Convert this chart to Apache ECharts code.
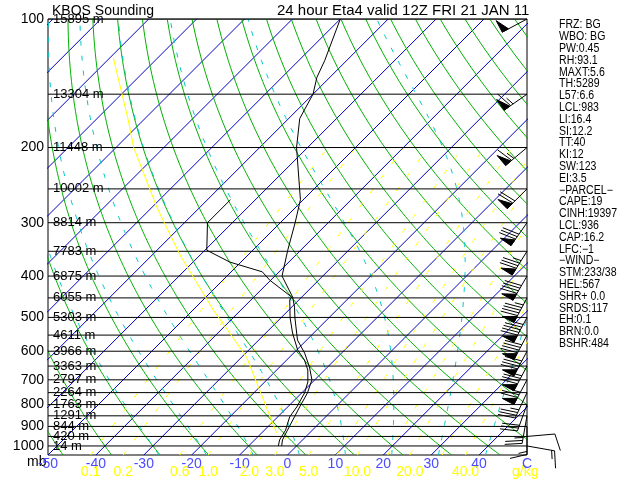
<!DOCTYPE html>
<html><head><meta charset="utf-8">
<script src="https://cdn.jsdelivr.net/npm/echarts@6/dist/echarts.min.js"></script>
<style>html,body{margin:0;padding:0;background:#fff}#c{width:640px;height:480px}</style>
</head><body><div id="c"></div>
<script>
// ---------------- data ----------------
const pressureLabels = [100,200,300,400,500,600,700,800,900,1000];
const isobarLevels = [100,150,200,250,300,350,400,450,500,550,600,650,700,750,800,850,900,950,1000];
const heightLabels = ['15895 m','13304 m','11448 m','10002 m','8814 m','7783 m','6875 m','6055 m','5303 m','4611 m','3966 m','3363 m','2797 m','2264 m','1763 m','1291 m','844 m','420 m','14 m'];
const tempP = [100,125,137,150,171,200,265,300,348,400,448,473,501,565,606,653,700,751,810,855,918,968,1000];
const tempT = [-80.0,-74.6,-72.7,-70.0,-67.7,-62.3,-50.6,-46.9,-42.7,-38.5,-31.9,-29.4,-27.1,-21.9,-17.7,-13.8,-10.6,-8.8,-7.5,-6.5,-5.2,-4.2,-3.1];
const dewP = [265,300,348,371,391,409,448,455,501,544,596,629,664,708,751,810,855,918,968,1000];
const dewT = [-65.2,-65.2,-59.6,-52.3,-43.5,-40.2,-32.1,-31.9,-28.1,-24.4,-19.8,-16.3,-13.5,-11.0,-9.4,-8.1,-7.5,-5.6,-4.8,-3.8];
const parcelP = [123,172,200,276,357,480,619,932];
const parcelT = [-119.4,-103.3,-96.3,-79.0,-64.2,-45.8,-29.0,-6.9];
const windP = [100,150,200,250,300,350,400,450,500,550,600,650,700,750,800,850,900,950,1000];
const windDir = [242,235,230,225,215,212,210,208,208,208,208,208,208,205,200,190,180,85,100];
const windSpd = [50,65,65,70,80,85,90,95,95,90,90,85,75,35,30,25,15,10,15];
const isothermT = [-140,-130,-120,-110,-100,-90,-80,-70,-60,-50,-40,-30,-20,-10,0,10,20,30,40];
const dryThetaC = [-60,-50,-40,-30,-20,-10,0,10,20,30,40,50,60,70,80,90,100,110,120,130,140,150,160,170,180,190,200];
const moistThetaW = [-30,-20,-10,0,10,20,30,40];
const mixRatio = [0.1,0.2,0.6,1,2,3,5,7.5,10,15,20,30,40];
const mixLabelVal = [0.1,0.2,0.6,1,2,3,5,10,20,40];
const mixLabel = ['0.1','0.2','0.6','1.0','2.0','3.0','5.0','10.0','20.0','40.0'];
const statLines = ['FRZ: BG','WBO: BG','PW:0.45','RH:93.1','MAXT:5.6','TH:5289','L57:6.6','LCL:983','LI:16.4','SI:12.2','TT:40','KI:12','SW:123','EI:3.5','\u2212PARCEL\u2212','CAPE:19','CINH:19397','LCL:936','CAP:16.2','LFC:\u22121','\u2212WIND\u2212','STM:233/38','HEL:567','SHR+ 0.0','SRDS:117','EH:0.1','BRN:0.0','BSHR:484'];
const titleLeft = 'KBOS Sounding';
const titleRight = '24 hour Eta4 valid 12Z FRI 21 JAN 11';

// ---------------- geometry ----------------
const GL=48, GT=19, GW=479, GH=436;
const PTOP=100, PBOT=1050;
const LY0=Math.log10(PTOP), LY1=Math.log10(PBOT);
const K=(GH/(LY1-LY0))/(GW/100);
function X(T,p){return T + K*(LY1-Math.log10(p));}
function Y(p){return Math.log10(p);}
const fineP=[]; for(let p=1050;p>=100;p-=5) fineP.push(p);

const series=[];
function addLine(pts,color,width,type,z){
  series.push({type:'line',data:pts,showSymbol:false,symbol:'none',silent:true,animation:false,clip:true,z:z||1,
    lineStyle:{color:color,width:width||1,type:type||'solid'}});
}
// isotherms
isothermT.forEach(t=>addLine([[X(t,1050),Y(1050)],[X(t,100),Y(100)]],'#0000c0',1,'solid',1));
// dry adiabats
dryThetaC.forEach(th=>{
  const pts=fineP.map(p=>{const T=(th+273.15)*Math.pow(p/1000,0.2857)-273.15;return [X(T,p),Y(p)];});
  addLine(pts,'#00b000',1,'solid',2);
});
// moist adiabats
function es(Tc){return 6.112*Math.exp(17.67*Tc/(Tc+243.5));}
function dTdp(Tk,p){
  const Tc=Tk-273.15, e=es(Tc), rs=0.622*e/(p-e);
  const Rd=287.04,Cp=1005.7,Lv=2.501e6;
  return (1/p)*(Rd*Tk+Lv*rs)/(Cp+Lv*Lv*rs*0.622/(Rd*Tk*Tk));
}
moistThetaW.forEach(tw=>{
  let Tk=tw+273.15, p=1000; const up=[];
  while(p>100){ const h=-1; const k1=dTdp(Tk,p); const k2=dTdp(Tk+0.5*h*k1,p+0.5*h); Tk+=h*k2; p+=h; if(Math.round(p)%5===0) up.push([X(Tk-273.15,p),Y(p)]); }
  Tk=tw+273.15; p=1000; const dn=[];
  while(p<1050){ const h=1; const k1=dTdp(Tk,p); const k2=dTdp(Tk+0.5*h*k1,p+0.5*h); Tk+=h*k2; p+=h; if(Math.round(p)%5===0) dn.push([X(Tk-273.15,p),Y(p)]); }
  const pts=dn.reverse().concat([[X(tw,1000),Y(1000)]]).concat(up);
  addLine(pts,'#00c8c8',1,[5,10],3);
});
// mixing ratio lines
function tdFromW(w,p){const e=w*p/(622+w);const l=Math.log(e/6.112);return 243.5*l/(17.67-l);}
mixRatio.forEach(w=>{
  const pts=[]; for(let p=1050;p>=200;p-=10) pts.push([X(tdFromW(w,p),p),Y(p)]);
  addLine(pts,'#ffff00',1,[5,13],3);
});
// isobars
isobarLevels.forEach(p=>addLine([[-50,Y(p)],[50,Y(p)]],'#000',1,'solid',5));
// parcel path
addLine(parcelP.map((p,i)=>[X(parcelT[i],p),Y(p)]),'#ffff00',1,'solid',6);
// sounding
addLine(tempP.map((p,i)=>[X(tempT[i],p),Y(p)]),'#000',1,'solid',8);
addLine(dewP.map((p,i)=>[X(dewT[i],p),Y(p)]),'#000',1,'solid',8);

const FONT='Liberation Sans, Arial, sans-serif';
// pressure labels
series.push({type:'custom',silent:true,animation:false,z:10,
  data:pressureLabels.map(p=>[-50,Y(p)]),
  renderItem:(params,api)=>{const c=api.coord([api.value(0),api.value(1)]);
    return {type:'text',style:{text:String(pressureLabels[params.dataIndex]),x:c[0]-4,y:c[1],fill:'#000',font:'14px '+FONT,align:'right',verticalAlign:'middle'}};}
});
// height labels
series.push({type:'custom',silent:true,animation:false,z:10,
  data:isobarLevels.map(p=>[-50,Y(p)]),
  renderItem:(params,api)=>{const c=api.coord([api.value(0),api.value(1)]);
    return {type:'text',style:{text:heightLabels[params.dataIndex],x:c[0]+5,y:c[1],fill:'#000',font:'13px '+FONT,align:'left',verticalAlign:'middle'}};}
});
// mixing ratio labels
series.push({type:'custom',silent:true,animation:false,z:10,
  data:mixLabelVal.map(w=>[X(tdFromW(w,1050),1050),Y(1050)]),
  renderItem:(params,api)=>{const c=api.coord([api.value(0),api.value(1)]);
    return {type:'text',style:{text:mixLabel[params.dataIndex],x:c[0],y:c[1]+17,fill:'#ffff00',font:'14px '+FONT,align:'center',verticalAlign:'middle'}};}
});
// wind barbs
series.push({type:'custom',silent:true,animation:false,z:12,
  data:windP.map((p,i)=>[50,Y(p),windDir[i],windSpd[i]]),
  renderItem:(params,api)=>{
    const b=api.coord([api.value(0),api.value(1)]);
    const d=api.value(2)*Math.PI/180, spd=api.value(3);
    const sx=Math.sin(d), sy=-Math.cos(d), px=-sy, py=sx;
    const L=28, fl=17;
    const tip=[b[0]+sx*L,b[1]+sy*L];
    const ch=[{type:'line',shape:{x1:b[0],y1:b[1],x2:tip[0],y2:tip[1]},style:{stroke:'#000',lineWidth:1}}];
    let s=Math.round(spd/5)*5, pos=0;
    while(s>=50){const a=[tip[0]-sx*pos,tip[1]-sy*pos], c2=[tip[0]-sx*(pos+7),tip[1]-sy*(pos+7)], ap=[a[0]+px*13,a[1]+py*13];
      ch.push({type:'polygon',shape:{points:[a,ap,c2]},style:{fill:'#000',stroke:'#000',lineWidth:1}}); pos+=8; s-=50;}
    while(s>=10){const a=[tip[0]-sx*pos,tip[1]-sy*pos];
      ch.push({type:'line',shape:{x1:a[0],y1:a[1],x2:a[0]+px*fl+sx*4,y2:a[1]+py*fl+sy*4},style:{stroke:'#000',lineWidth:1}}); pos+=3; s-=10;}
    if(s>=5){ if(pos===0) pos=3; const a=[tip[0]-sx*pos,tip[1]-sy*pos];
      ch.push({type:'line',shape:{x1:a[0],y1:a[1],x2:a[0]+px*fl/2+sx*2,y2:a[1]+py*fl/2+sy*2},style:{stroke:'#000',lineWidth:1}});}
    return {type:'group',children:ch};
  }
});

const chart=echarts.init(document.getElementById('c'),null,{renderer:'canvas'});
const statGraphics=statLines.map((t,i)=>({type:'text',x:559,y:19+i*11.8,scaleX:0.88,silent:true,
  style:{text:t,fill:'#000',font:'12px '+FONT}}));
chart.setOption({
  animation:false,
  backgroundColor:'#fff',
  grid:{left:GL,top:GT,width:GW,height:GH,show:true,borderColor:'#000',borderWidth:1,backgroundColor:'transparent'},
  xAxis:{type:'value',min:-50,max:50,interval:10,axisLine:{show:false},axisTick:{show:false},splitLine:{show:false},
    axisLabel:{show:true,margin:2,color:'#4b4bff',fontSize:14,fontFamily:FONT,showMinLabel:true,showMaxLabel:true,
      formatter:v=>v===50?'C':String(v)}},
  yAxis:{type:'value',min:LY0,max:LY1,inverse:true,axisLine:{show:false},axisTick:{show:false},splitLine:{show:false},axisLabel:{show:false}},
  series:series,
  graphic:[
    {type:'text',left:52,top:4,silent:true,style:{text:titleLeft,fill:'#000',font:'14px '+FONT}},
    {type:'text',left:277,top:3,silent:true,style:{text:titleRight,fill:'#000',font:'15px '+FONT}},
    {type:'text',left:27,top:455,silent:true,style:{text:'mb',fill:'#000',font:'14px '+FONT}},
    {type:'text',left:512,top:465,silent:true,style:{text:'g/kg',fill:'#ffff00',font:'14px '+FONT}}
  ].concat(statGraphics)
});
</script></body></html>
